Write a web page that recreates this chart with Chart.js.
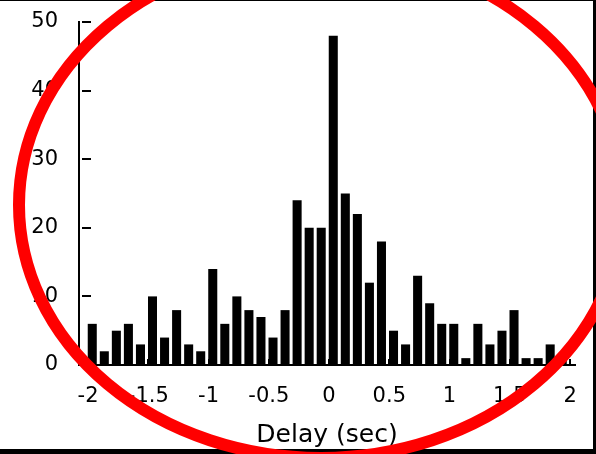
<!DOCTYPE html>
<html lang="en">
<head>
    <meta charset="UTF-8">
    <title>Delay histogram</title>
    <!-- chart.js from the CDN -->
    <script src="https://cdn.jsdelivr.net/npm/chart.js@4.4.1/dist/chart.umd.min.js"></script>
    <style>
        html, body { margin: 0; padding: 0; background: #fff; }
        canvas { display: block; }
    </style>
</head>
<body>
    <canvas id="chart" width="596" height="454"></canvas>
    <script>
        // left edge of each 0.1 s bin
        const binStarts = [
            -2.0, -1.9, -1.8, -1.7, -1.6, -1.5, -1.4, -1.3, -1.2, -1.1,
            -1.0, -0.9, -0.8, -0.7, -0.6, -0.5, -0.4, -0.3, -0.2, -0.1,
             0.0,  0.1,  0.2,  0.3,  0.4,  0.5,  0.6,  0.7,  0.8,  0.9,
             1.0,  1.1,  1.2,  1.3,  1.4,  1.5,  1.6,  1.7,  1.8,  1.9
        ];
        // counts per bin
        const counts = [
             6,  2,  5,  6,  3, 10,  4,  8,  3,  2,
            14,  6, 10,  8,  7,  4,  8, 24, 20, 20,
            48, 25, 22, 12, 18,  5,  3, 13,  9,  6,
             6,  1,  6,  3,  5,  8,  1,  1,  3,  1
        ];
        const xTicks = [-2, -1.5, -1, -0.5, 0, 0.5, 1, 1.5, 2];
        const yTicks = [0, 10, 20, 30, 40, 50];
        const xTitle = 'Delay (sec)';

        // bars sit at the left side of their bin
        const points = binStarts.map((b, i) => ({ x: b + 0.035, y: counts[i] }));

        // inward tick marks, frame and the red ring drawn over everything
        const extras = {
            id: 'extras',
            afterDatasetsDraw(chart) {
                const { ctx } = chart;
                const xs = chart.scales.x, ys = chart.scales.y;
                ctx.save();
                ctx.fillStyle = '#000';
                yTicks.forEach(v => {
                    const py = Math.round(ys.getPixelForValue(v));
                    ctx.fillRect(xs.left + 3, py - 1, 9, 2);
                });
                xTicks.forEach(v => {
                    const px = Math.round(xs.getPixelForValue(v));
                    ctx.fillRect(px - 1, ys.bottom - 6, 2, 6);
                });
                ctx.restore();
            },
            afterDraw(chart) {
                const { ctx, width, height } = chart;
                ctx.save();
                ctx.fillStyle = '#000';
                ctx.fillRect(0, 0, width, 1);
                ctx.fillRect(width - 3, 0, 3, height);
                ctx.fillRect(0, height - 5, width, 5);

                ctx.strokeStyle = '#ff0000';
                ctx.lineWidth = 12;
                ctx.beginPath();
                ctx.ellipse(321, 205, 302, 253, 0, 0, Math.PI * 2);
                ctx.stroke();
                ctx.restore();
            }
        };

        const ctx = document.getElementById('chart').getContext('2d');
        const myChart = new Chart(ctx, {
            type: 'bar',
            data: {
                datasets: [{
                    data: points,
                    backgroundColor: '#000',
                    borderWidth: 0,
                    barPercentage: 0.75,
                    categoryPercentage: 1
                }]
            },
            options: {
                responsive: false,
                animation: false,
                layout: { padding: { left: 0, top: 22, right: 21, bottom: 0 } },
                plugins: {
                    legend: { display: false },
                    tooltip: { enabled: false }
                },
                scales: {
                    x: {
                        type: 'linear',
                        offset: false,
                        min: -2.075,
                        max: 2.041,
                        grid: { display: false, drawTicks: false },
                        border: { display: true, color: '#000', width: 2 },
                        afterBuildTicks: s => { s.ticks = xTicks.map(v => ({ value: v })); },
                        afterFit: s => {
                            s.height = 89;
                            s.paddingLeft = 0;
                            s.paddingRight = 0;
                        },
                        ticks: {
                            color: '#000',
                            padding: 19,
                            maxRotation: 0,
                            autoSkip: false,
                            font: { family: 'DejaVu Sans', size: 21 },
                            callback: v => String(v)
                        },
                        title: {
                            display: true,
                            text: xTitle,
                            color: '#000',
                            padding: { top: 0, bottom: 4 },
                            font: { family: 'DejaVu Sans', size: 25, lineHeight: 1.2 }
                        }
                    },
                    y: {
                        min: 0,
                        max: 50,
                        grid: { display: false, drawTicks: false },
                        border: { display: true, color: '#000', width: 2 },
                        afterBuildTicks: s => { s.ticks = yTicks.map(v => ({ value: v })); },
                        afterFit: s => {
                            s.width = 79;
                            s.paddingTop = 0;
                            s.paddingBottom = 0;
                        },
                        ticks: {
                            color: '#000',
                            padding: 21,
                            font: { family: 'DejaVu Sans', size: 21 }
                        }
                    }
                }
            },
            plugins: [extras]
        });
    </script>
</body>
</html>
